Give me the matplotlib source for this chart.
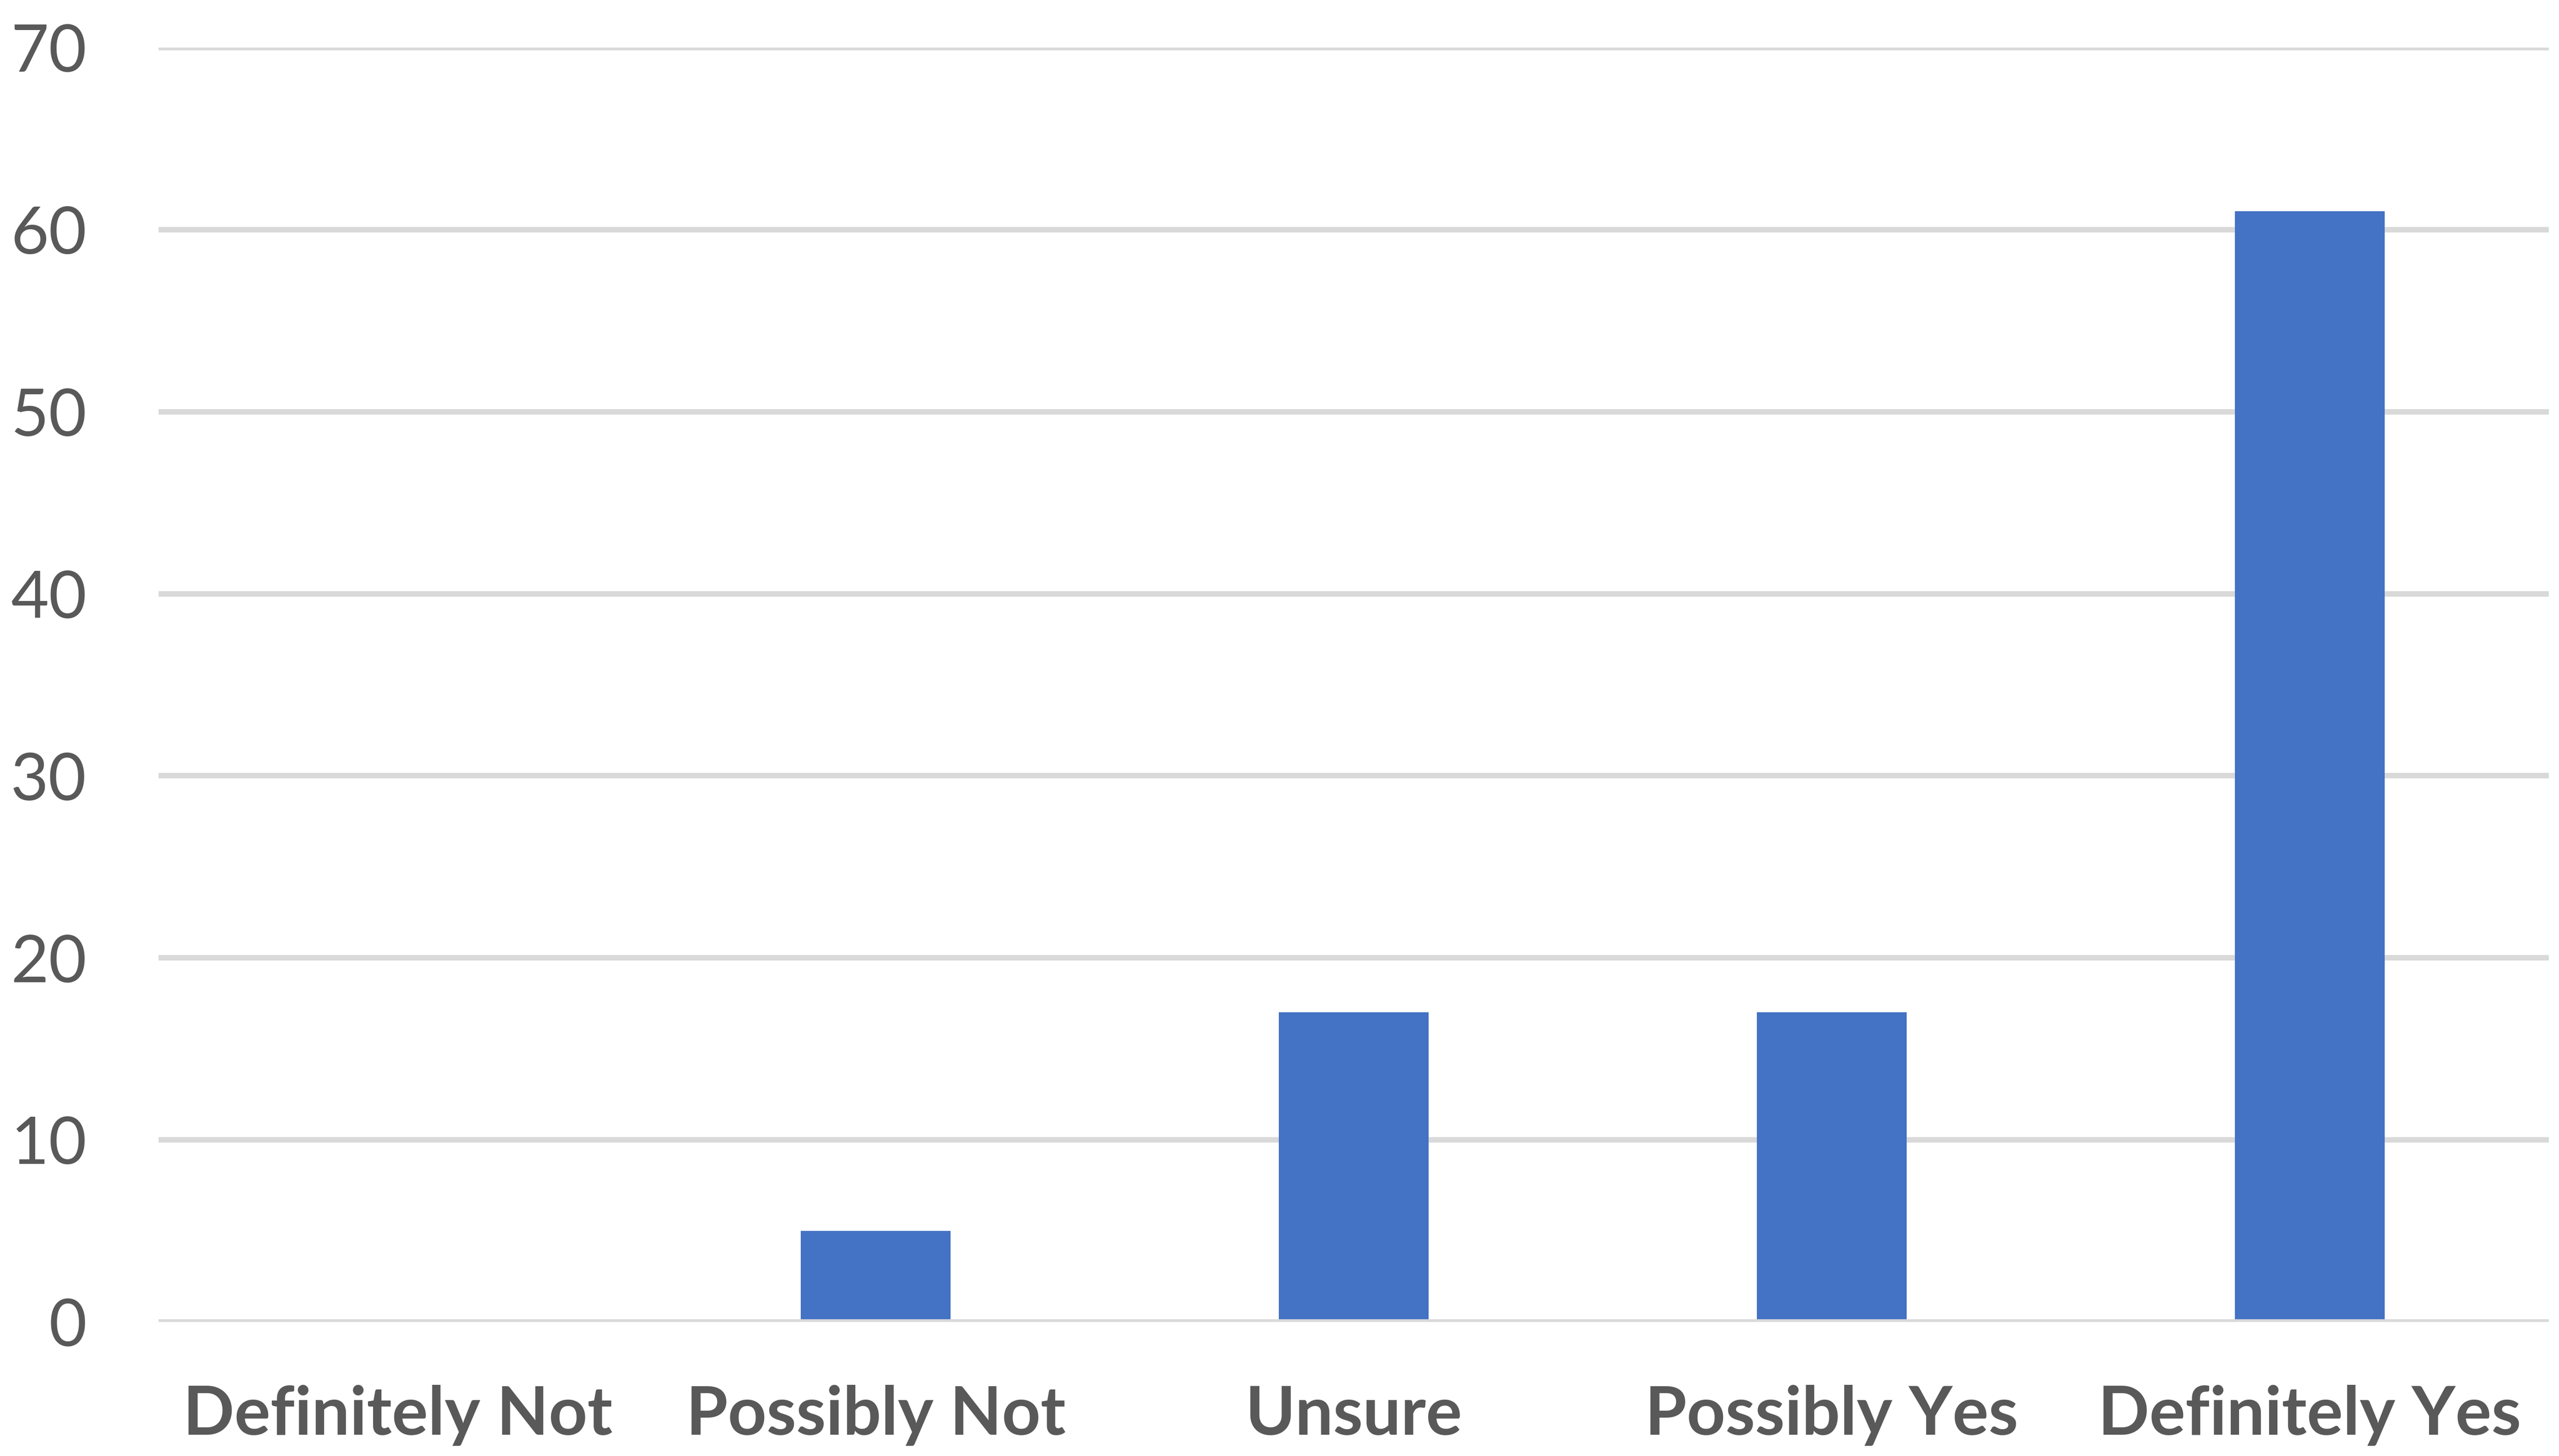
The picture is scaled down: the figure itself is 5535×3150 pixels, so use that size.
import matplotlib
matplotlib.use("Agg")
import matplotlib.pyplot as plt

categories = ["Definitely Not", "Possibly Not", "Unsure", "Possibly Yes", "Definitely Yes"]
values = [0, 5, 17, 17, 61]
y_ticks = [0, 10, 20, 30, 40, 50, 60, 70]

DPI = 100
fig = plt.figure(figsize=(55.35, 31.5), dpi=DPI)
ax = fig.add_axes([343/5535, 290/3150, (5513-343)/5535, (2860-103)/3150])

text_color = "#595959"
grid_color = "#D9D9D9"
bar_color = "#4472C4"

x = list(range(len(categories)))
ax.bar(x, values, width=0.314, color=bar_color, zorder=3)

ax.set_xlim(-0.5, len(categories) - 0.5)
ax.set_ylim(0, 70)
ax.set_yticks(y_ticks)
ax.set_yticklabels([str(t) for t in y_ticks])
ax.set_xticks(x)
ax.set_xticklabels(categories)

for t in y_ticks:
    ax.axhline(t, color=grid_color, linewidth=8.5, zorder=4 if t == 0 else 1,
               solid_capstyle="butt")

for s in ax.spines.values():
    s.set_visible(False)

ax.tick_params(axis="both", length=0)
ax.tick_params(axis="y", pad=112, labelsize=102, labelcolor=text_color)
ax.tick_params(axis="x", pad=98, labelsize=105, labelcolor=text_color)
for lbl in ax.get_yticklabels():
    lbl.set_family("Lato")
for lbl in ax.get_xticklabels():
    lbl.set_family("Lato")
    lbl.set_fontweight("bold")

fig.savefig("out.png", dpi=DPI, facecolor="white")
